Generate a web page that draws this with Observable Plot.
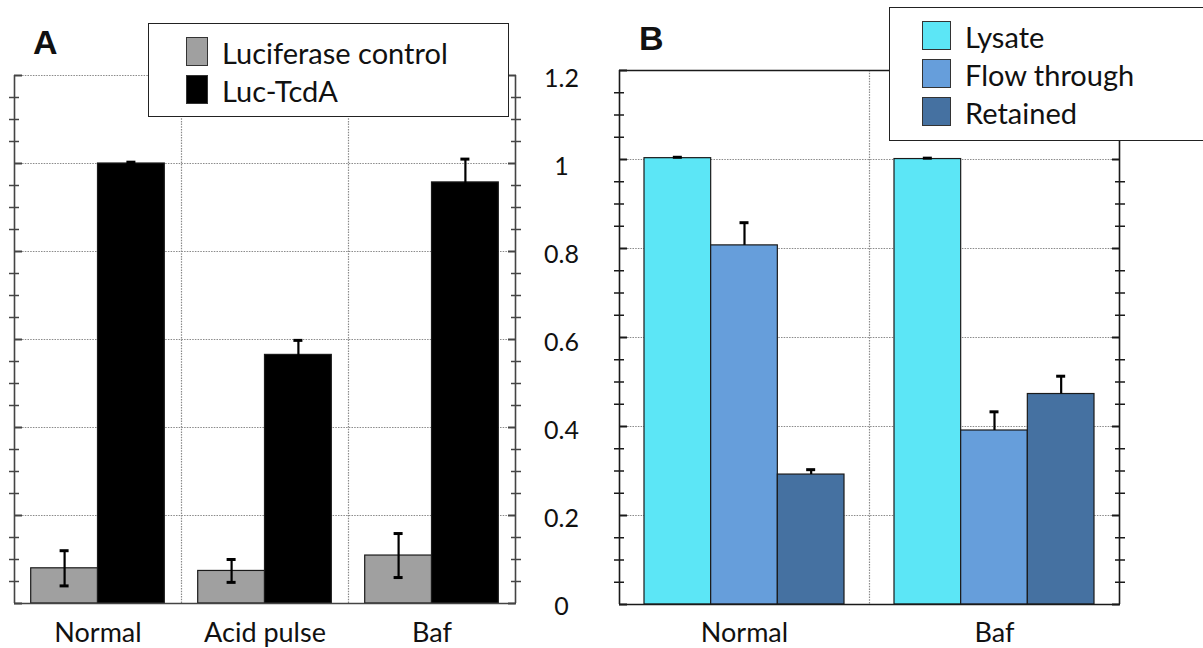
<!DOCTYPE html>
<html><head><meta charset="utf-8">
<script src="https://cdn.jsdelivr.net/npm/d3@7"></script>
<script src="https://cdn.jsdelivr.net/npm/@observablehq/plot@0.6"></script>
<style>
body{margin:0;background:#fff;}
#root{position:relative;width:1203px;height:648px;overflow:hidden;font-family:Lato,sans-serif;color:#111;}
.panel{position:absolute;top:0;}
.legend{position:absolute;background:#fff;border:1.5px solid #222;box-sizing:border-box;}
.sw{position:absolute;box-sizing:border-box;border:1.5px solid #333;}
.lt{position:absolute;font-size:29px;line-height:30px;white-space:nowrap;}
.plabel{position:absolute;font-family:"Liberation Sans",Arial,sans-serif;font-weight:bold;font-size:34px;line-height:34px;}
</style></head><body><div id="root"></div>
<script>
// ---- data ----
const yTicks = [0, 0.2, 0.4, 0.6, 0.8, 1, 1.2];

const categoriesA = ["Normal", "Acid pulse", "Baf"];
const seriesA = ["Luciferase control", "Luc-TcdA"];
const lucControl = [0.080, 0.074, 0.109];
const lucControlErr = [0.040, 0.026, 0.050];
const lucTcdA = [1.000, 0.565, 0.957];
const lucTcdAErr = [0.003, 0.033, 0.053];
const colorsA = ["#a0a0a0", "#000000"];

const categoriesB = ["Normal", "Baf"];
const seriesB = ["Lysate", "Flow through", "Retained"];
const lysate = [1.003, 1.001];
const lysateErr = [0.002, 0.002];
const flowThrough = [0.807, 0.391];
const flowThroughErr = [0.051, 0.042];
const retained = [0.292, 0.473];
const retainedErr = [0.011, 0.040];
const colorsB = ["#5ce6f6", "#669edb", "#4571a1"];

const minorTicks = d3.range(0, 25).map(i => i * 0.05).filter(v => Math.round(v * 100) % 20 !== 0);

function rowsOf(categories, series, values, errs) {
  const rows = [];
  categories.forEach((c, i) => series.forEach((s, j) => rows.push({cat: c, ci: i, series: s, sj: j, value: values[j][i], err: errs[j][i]})));
  return rows;
}

function panel({width, margins, categories, series, values, errs, colors, twoSided, solidTop, axisColor, showYLabels}) {
  const [mt, mr, mb, ml] = margins;
  const n = categories.length, ns = series.length;
  const pad = 0.1, w = (1 - 2 * pad) / ns;
  const pxPerUnit = (width - ml - mr) / n;
  const capHalf = 4.5 / pxPerUnit;
  const rows = rowsOf(categories, series, values, errs);
  const cx = d => d.ci + pad + (d.sj + 0.5) * w;
  const marks = [
    Plot.ruleY(yTicks.filter(v => v > 0 && !(solidTop && v === 1.2)), {stroke: "#8a8a8a", strokeDasharray: "1.5,1.2", strokeWidth: 1.2}),
    Plot.ruleX(d3.range(1, n), {stroke: "#8a8a8a", strokeDasharray: "1.5,1.2", strokeWidth: 1.2}),
    Plot.rectY(rows, {x1: d => d.ci + pad + d.sj * w, x2: d => d.ci + pad + (d.sj + 1) * w, y1: 0, y2: "value", fill: "series", stroke: "#1a1a1a", strokeWidth: 1.2}),
    Plot.ruleX(rows, {x: cx, y1: d => twoSided ? d.value - d.err : d.value, y2: d => d.value + d.err, stroke: "#000", strokeWidth: 2.2}),
    Plot.ruleY(rows, {y: d => d.value + d.err, x1: d => cx(d) - capHalf, x2: d => cx(d) + capHalf, stroke: "#000", strokeWidth: 3}),
    twoSided ? Plot.ruleY(rows, {y: d => d.value - d.err, x1: d => cx(d) - capHalf, x2: d => cx(d) + capHalf, stroke: "#000", strokeWidth: 3}) : null,
    Plot.ruleX([0, n], {stroke: axisColor, strokeWidth: 1.6}),
    Plot.ruleY([0], {stroke: axisColor, strokeWidth: 1.6}),
    solidTop ? Plot.ruleY([1.2], {stroke: axisColor, strokeWidth: 1.6}) : null,
    Plot.axisY({anchor: "left", ticks: minorTicks, tickSize: 5, tickFormat: () => "", label: null, stroke: axisColor, strokeWidth: 1.5}),
    Plot.axisY({anchor: "left", ticks: minorTicks, tickSize: 5, dx: 5, tickFormat: () => "", label: null, stroke: axisColor, strokeWidth: 1.5}),
    Plot.axisY({anchor: "left", ticks: yTicks, tickSize: 8, dx: 8, tickFormat: () => "", label: null, stroke: axisColor, strokeWidth: 2}),
    Plot.axisY({anchor: "right", ticks: minorTicks, tickSize: 5, tickFormat: () => "", label: null, stroke: axisColor, strokeWidth: 1.5}),
    Plot.axisY({anchor: "right", ticks: minorTicks, tickSize: 5, dx: -5, tickFormat: () => "", label: null, stroke: axisColor, strokeWidth: 1.5}),
    Plot.axisY({anchor: "right", ticks: yTicks, tickSize: 8, dx: -8, tickFormat: () => "", label: null, stroke: axisColor, strokeWidth: 2}),
    Plot.axisX({anchor: "bottom", ticks: categories.map((c, i) => i + 0.5), tickFormat: v => categories[Math.floor(v)], tickSize: 0, tickPadding: mb - 26, fontSize: 27, label: null, fill: "#111"}),
    showYLabels ? Plot.axisY({anchor: "right", ticks: yTicks, tickSize: 0, tickPadding: 46, textAnchor: "middle", dy: 3, fontSize: 25, label: null, fill: "#111", tickFormat: d => String(+d.toFixed(1))}) : null
  ];
  return Plot.plot({
    width, height: 648,
    marginTop: mt, marginRight: mr, marginBottom: mb, marginLeft: ml,
    x: {type: "linear", domain: [0, n], axis: null},
    y: {domain: [0, 1.2], axis: null},
    color: {domain: series, range: colors},
    style: {fontFamily: "Lato, sans-serif", background: "transparent", overflow: "visible"},
    marks
  });
}

const root = document.getElementById("root");

const svgA = panel({width: 600, margins: [75, 85, 45, 14], categories: categoriesA, series: seriesA,
  values: [lucControl, lucTcdA], errs: [lucControlErr, lucTcdAErr], colors: colorsA, twoSided: true, solidTop: false, axisColor: "#444", showYLabels: true});
svgA.classList.add("panel"); svgA.style.left = "0px";
root.appendChild(svgA);

const svgB = panel({width: 603, margins: [70, 84, 44, 19], categories: categoriesB, series: seriesB,
  values: [lysate, flowThrough, retained], errs: [lysateErr, flowThroughErr, retainedErr], colors: colorsB, twoSided: false, solidTop: true, axisColor: "#1a1a1a", showYLabels: false});
svgB.classList.add("panel"); svgB.style.left = "600px";
root.appendChild(svgB);

function legend(left, top, width, height, series, colors, swLeft, swW, swTop0, rowH, textLeft) {
  const box = document.createElement("div");
  box.className = "legend";
  Object.assign(box.style, {left: left + "px", top: top + "px", width: width + "px", height: height + "px"});
  series.forEach((s, i) => {
    const sw = document.createElement("div");
    sw.className = "sw";
    Object.assign(sw.style, {left: swLeft + "px", top: (swTop0 + i * rowH) + "px", width: swW + "px", height: "29px", background: colors[i]});
    box.appendChild(sw);
    const t = document.createElement("div");
    t.className = "lt";
    t.textContent = s;
    Object.assign(t.style, {left: textLeft + "px", top: (swTop0 + i * rowH + 1) + "px"});
    box.appendChild(t);
  });
  root.appendChild(box);
}
legend(148, 23, 361, 94, seriesA, colorsA, 37, 22, 13, 38, 73);
legend(889, 7, 340, 134, seriesB, colorsB, 32, 29, 13, 38, 75);

function plabel(txt, left, top) {
  const d = document.createElement("div");
  d.className = "plabel"; d.textContent = txt;
  Object.assign(d.style, {left: left + "px", top: top + "px"});
  root.appendChild(d);
}
plabel("A", 33, 25);
plabel("B", 639, 21);
</script>
</body></html>
